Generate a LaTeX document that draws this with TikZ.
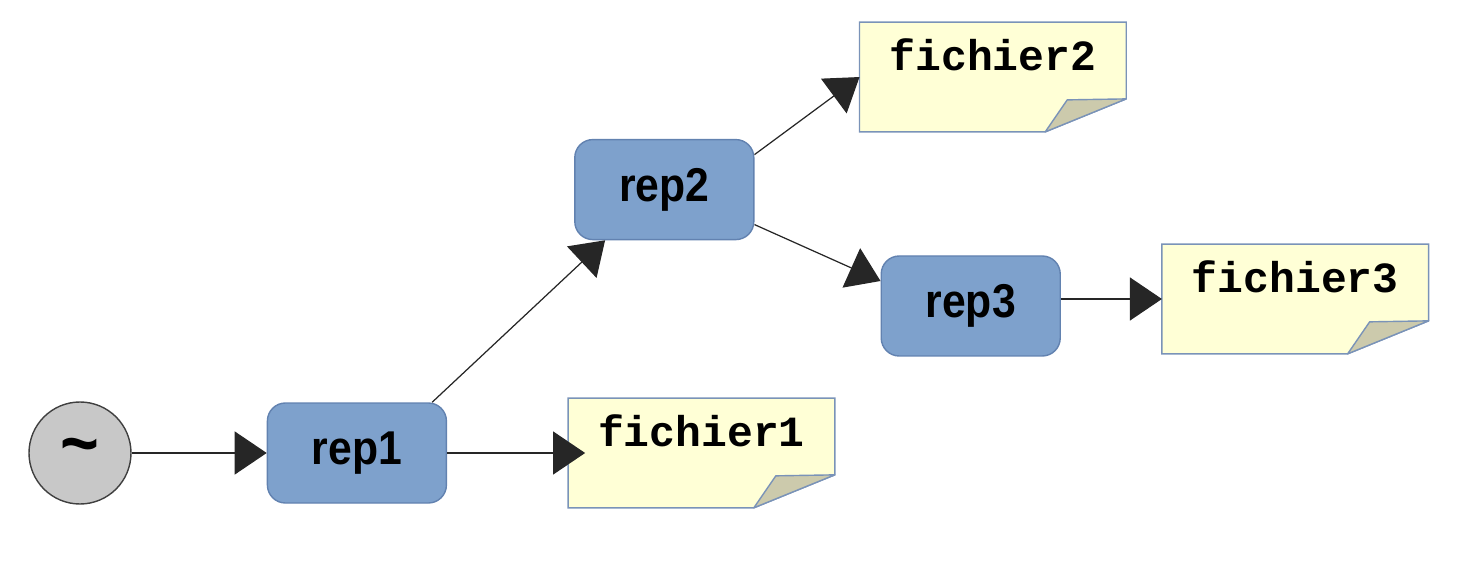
\documentclass[tikz,border=0pt]{standalone}
\usepackage{fontspec}
\usepackage{tikz}
\usetikzlibrary{arrows.meta, positioning, backgrounds}
\newfontfamily\repfont[FakeStretch=0.9]{Liberation Sans}
\newfontfamily\filefont{Liberation Mono}
\definecolor{repblue}{RGB}{126,161,204}
\definecolor{repline}{RGB}{98,130,176}
\definecolor{notefill}{RGB}{255,255,214}
\definecolor{noteline}{RGB}{122,147,184}
\definecolor{flapfill}{RGB}{204,202,172}
\definecolor{homegray}{RGB}{200,200,200}

\begin{document}
\begin{tikzpicture}[
    rep/.style  = {rectangle, rounded corners=0.36cm, draw=repline, fill=repblue, line width=0.8pt,
                   minimum width=3.58cm, minimum height=2cm, inner sep=0pt,
                   font=\repfont\bfseries\fontsize{27}{30}\selectfont},
    home/.style = {circle, draw=black!75, fill=homegray, line width=0.8pt, minimum size=2.04cm,
                   inner sep=0pt, font=\repfont\bfseries\fontsize{42}{44}\selectfont},
    file/.style = {rectangle, minimum width=5.32cm, inner xsep=0pt, inner ysep=0pt,
                   text height=0.96cm, text depth=1.22cm,
                   font=\filefont\bfseries\fontsize{24.5}{28}\selectfont},
    note/.style = {fill=notefill, draw=noteline, line width=0.8pt},
    flap/.style = {fill=flapfill, draw=noteline, line width=0.8pt, line join=round},
    fwd/.style  = {-{Triangle[length=0.64cm,width=0.86cm]}, line width=0.7pt, black!85},
]
\useasboundingbox (0,0) rectangle (29.36,-11.44);

% ---- home and first level ----
\node[home] (home) at (1.6,-9.06) {\textasciitilde};
\node[rep]  (rep1)     [right=2.7cm of home]  {rep1};
\node[file] (fichier1) [right=2.42cm of rep1] {fichier1};

% ---- second level ----
\node[rep]  (rep2)     [above right=3.24cm and 2.54cm of rep1] {rep2};
\node[file] (fichier2) [above right=0.14cm and 2.1cm of rep2]  {fichier2};
\node[rep]  (rep3)     [below right=0.3cm and 2.52cm of rep2]  {rep3};
\node[file] (fichier3) [right=2.02cm of rep3, yshift=0.14cm]   {fichier3};

% ---- dog-eared sheets behind the file names ----
\begin{scope}[on background layer]
\foreach \f in {fichier1, fichier2, fichier3} {
  \path[note] (\f.north west) -- (\f.north east) -- ([yshift=0.66cm]\f.south east)
              -- ([xshift=-1.62cm]\f.south east) -- (\f.south west) -- cycle;
  \path[flap] ([xshift=-1.62cm]\f.south east) -- ([xshift=-1.18cm,yshift=0.64cm]\f.south east)
              -- ([yshift=0.66cm]\f.south east) -- cycle;
}
\end{scope}

% ---- links ----
\draw[fwd] (home) -- (rep1);
\draw[fwd, shorten >=-0.34cm] (rep1) -- (fichier1);
\draw[fwd] ([xshift=-0.3cm]rep1.north east) -- ([xshift=0.62cm]rep2.south west);
\draw[fwd] ([yshift=0.7cm]rep2.east) -- (fichier2.west);
\draw[fwd] ([yshift=-0.7cm]rep2.east) -- ([yshift=0.5cm]rep3.west);
\draw[fwd] (rep3.east |- fichier3.west) -- (fichier3.west);

\end{tikzpicture}
\end{document}
